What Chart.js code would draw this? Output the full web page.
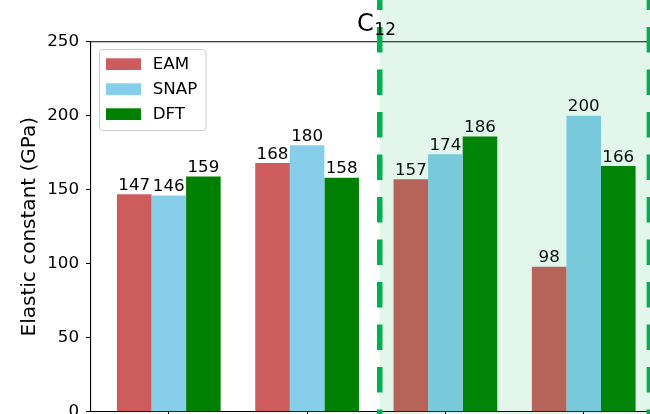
<!DOCTYPE html>
<html>
<head>
<meta charset="utf-8">
<script src="https://cdn.jsdelivr.net/npm/chart.js@4/dist/chart.umd.min.js"></script>
<style>
  html, body { margin: 0; padding: 0; width: 650px; height: 414px; overflow: hidden; background: #fff; }
  #wrap { position: absolute; left: 0; top: 0; width: 800px; height: 480px; }
</style>
</head>
<body>
<div id="wrap"><canvas id="chart" width="800" height="480"></canvas></div>
<script>
// Elastic constants per material group, three methods
const seriesNames = ['EAM', 'SNAP', 'DFT'];
const seriesColors = ['#CD5C5C', '#87CEEB', '#008000'];
const eamValues  = [147, 168, 157, 98];
const snapValues = [146, 180, 174, 200];
const dftValues  = [159, 158, 186, 166];
const groupIndex = [0, 1, 2, 3];
const yTicks = [0, 50, 100, 150, 200, 250];
const panelLabel = 'C';
const panelSub = '12';
const yTitle = 'Elastic constant (GPa)';

const FONT = '"DejaVu Sans", "Liberation Sans", sans-serif';
Chart.defaults.font.family = FONT;
Chart.defaults.color = '#000';

const seriesValues = [eamValues, snapValues, dftValues];
const datasets = seriesNames.map((name, s) => ({
  label: name,
  data: groupIndex.map((g, i) => ({ x: g, y: seriesValues[s][i] })),
  backgroundColor: seriesColors[s],
  borderWidth: 0,
  categoryPercentage: 0.75,
  barPercentage: 1.0
}));

// boundaries of the highlighted C12 block, in x-axis units
const blockStart = 1.525;
const blockEnd = 3.475;

const overlay = {
  id: 'overlay',
  afterDatasetsDraw(chart) {
    const ctx = chart.ctx;
    const area = chart.chartArea;
    const xs = chart.scales.x;
    ctx.save();
    // top spine
    ctx.strokeStyle = '#000';
    ctx.lineWidth = 1.1;
    ctx.beginPath();
    ctx.moveTo(area.left, area.top);
    ctx.lineTo(area.right, area.top);
    ctx.stroke();

    // value labels above bars
    ctx.fillStyle = '#000';
    ctx.font = '16.7px ' + FONT;
    ctx.textAlign = 'center';
    ctx.textBaseline = 'alphabetic';
    chart.data.datasets.forEach((ds, i) => {
      const meta = chart.getDatasetMeta(i);
      meta.data.forEach((bar, j) => {
        ctx.fillText(String(ds.data[j].y), bar.x, bar.y - 4.4);
      });
    });

    // shaded block and dashed separators
    const x0 = xs.getPixelForValue(blockStart);
    const x1 = xs.getPixelForValue(blockEnd);
    ctx.fillStyle = 'rgba(0,176,80,0.11)';
    ctx.fillRect(x0, 0, chart.width - x0, chart.height);
    ctx.strokeStyle = '#00B050';
    ctx.lineWidth = 5.5;
    ctx.setLineDash([25.5, 17]);
    ctx.lineDashOffset = 15.5;
    [x0, x1].forEach(x => {
      ctx.beginPath();
      ctx.moveTo(x, 0);
      ctx.lineTo(x, chart.height);
      ctx.stroke();
    });
    ctx.restore();
  },
  afterDraw(chart) {
    const ctx = chart.ctx;
    const area = chart.chartArea;
    const xs = chart.scales.x;
    ctx.save();
    // legend box
    const lx = area.left + 8.5, ly = area.top + 7.8, lw = 106.5, lh = 81;
    ctx.beginPath();
    ctx.roundRect(lx, ly, lw, lh, 3.3);
    ctx.fillStyle = 'rgba(255,255,255,0.8)';
    ctx.fill();
    ctx.strokeStyle = '#cccccc';
    ctx.lineWidth = 1;
    ctx.stroke();
    ctx.font = '16.7px ' + FONT;
    ctx.textAlign = 'left';
    ctx.textBaseline = 'alphabetic';
    seriesNames.forEach((name, i) => {
      const top = ly + 8.8 + i * 25;
      ctx.fillStyle = seriesColors[i];
      ctx.fillRect(lx + 6.5, top, 35, 11.7);
      ctx.fillStyle = '#000';
      ctx.fillText(name, lx + 53.2, top + 11);
    });

    // panel label C12 centred on the block boundary
    const cx = xs.getPixelForValue(1.5);
    ctx.font = '24px ' + FONT;
    const wMain = ctx.measureText(panelLabel).width;
    ctx.font = '17px ' + FONT;
    const wSub = ctx.measureText(panelSub).width;
    const start = cx - (wMain + wSub) / 2;
    ctx.fillStyle = '#000';
    ctx.font = '24px ' + FONT;
    ctx.fillText(panelLabel, start, 30.7);
    ctx.font = '17px ' + FONT;
    ctx.fillText(panelSub, start + wMain + 0.5, 35);
    ctx.restore();
  }
};

new Chart(document.getElementById('chart'), {
  type: 'bar',
  data: { datasets },
  options: {
    responsive: false,
    animation: false,
    devicePixelRatio: 1,
    layout: { padding: { left: 0, top: 41.7, right: 138.5, bottom: 48.3 } },
    plugins: { legend: { display: false }, tooltip: { enabled: false } },
    scales: {
      x: {
        type: 'linear',
        min: -0.5625,
        max: 3.5625,
        offset: false,
        grid: { offset: false, drawOnChartArea: false, drawTicks: true, tickLength: 5, color: '#000', tickWidth: 1 },
        border: { display: true, color: '#000', width: 1.1 },
        ticks: { callback: () => '', padding: 0 },
        afterBuildTicks: s => { s.ticks = groupIndex.map(v => ({ value: v })); },
        afterFit: s => { s.height = 20; }
      },
      y: {
        min: 0,
        max: 250,
        grid: { drawOnChartArea: false, drawTicks: true, tickLength: 5, color: '#000', tickWidth: 1 },
        border: { display: true, color: '#000', width: 1.1 },
        ticks: { font: { size: 16.7 }, color: '#000', padding: 7, autoSkip: false },
        afterBuildTicks: s => { s.ticks = yTicks.map(v => ({ value: v })); },
        title: { display: true, text: yTitle, font: { size: 20 }, color: '#000', padding: { top: 18, bottom: 0 } },
        afterFit: s => { s.width = 91; }
      }
    }
  },
  plugins: [overlay]
});
</script>
</body>
</html>
